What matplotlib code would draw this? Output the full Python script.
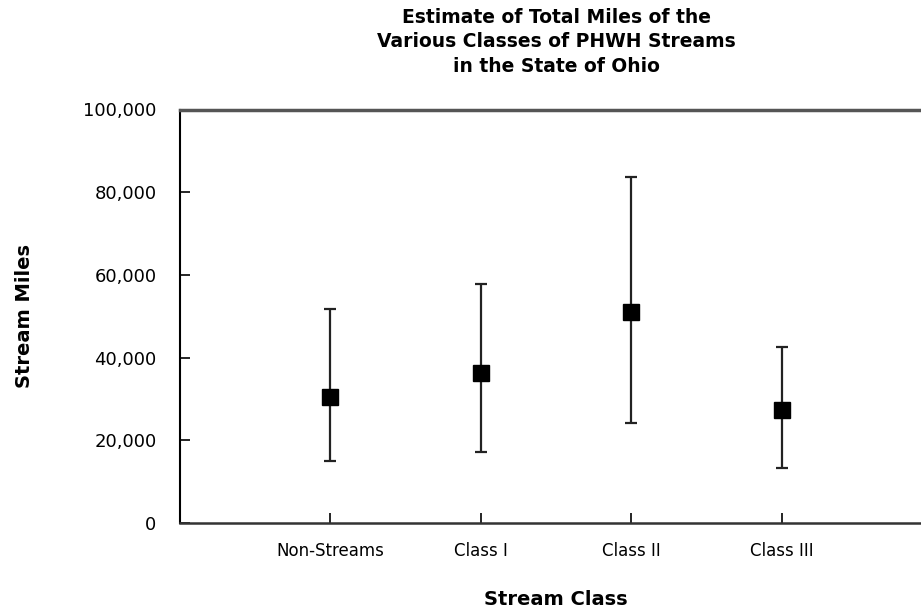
import matplotlib
matplotlib.use("Agg")
from matplotlib import pyplot as plt
from matplotlib.ticker import FuncFormatter

categories = ["Non-Streams", "Class I", "Class II", "Class III"]
estimate = [30500, 36300, 51100, 27300]
upper = [51800, 57700, 83700, 42600]
lower = [15100, 17100, 24300, 13200]

def main():
    fig = plt.figure(figsize=(9.21, 6.13), dpi=100)
    ax = fig.add_axes([180 / 921, 90 / 613, 752 / 921, 413.5 / 613])

    x = list(range(len(categories)))
    yerr = [[e - l for e, l in zip(estimate, lower)],
            [u - e for e, u in zip(estimate, upper)]]
    ax.errorbar(x, estimate, yerr=yerr, fmt="s", color="black", ecolor="#222222",
                elinewidth=1.6, capsize=4, capthick=1.6, markersize=11.5,
                markeredgecolor="black", zorder=3)

    ax.set_xlim(-1, 4)
    ax.set_ylim(0, 100000)
    ax.set_xticks(x)
    ax.set_xticklabels(categories, fontsize=12)
    ax.set_yticks(range(0, 100001, 20000))
    ax.yaxis.set_major_formatter(FuncFormatter(lambda v, p: "{:,.0f}".format(v)))
    ax.tick_params(axis="y", direction="in", length=7, width=1.2, labelsize=13, pad=17)
    ax.tick_params(axis="x", direction="in", length=7, width=1.2, pad=14)

    ax.spines["right"].set_visible(False)
    ax.spines["top"].set_color("#555555")
    ax.spines["top"].set_linewidth(2.5)
    ax.spines["left"].set_color("black")
    ax.spines["left"].set_linewidth(1.5)
    ax.spines["bottom"].set_color("#333333")
    ax.spines["bottom"].set_linewidth(1.8)

    ax.set_xlabel("Stream Class", fontsize=14, fontweight="bold", labelpad=21)
    ax.set_ylabel("Stream Miles", fontsize=14, fontweight="bold", labelpad=35)
    ax.set_title("Estimate of Total Miles of the\nVarious Classes of PHWH Streams\nin the State of Ohio",
                 fontsize=13.5, fontweight="bold", linespacing=1.38, pad=27, x=(556 - 180) / 752)

    fig.savefig("out.png", dpi=100)

if __name__ == "__main__":
    main()
